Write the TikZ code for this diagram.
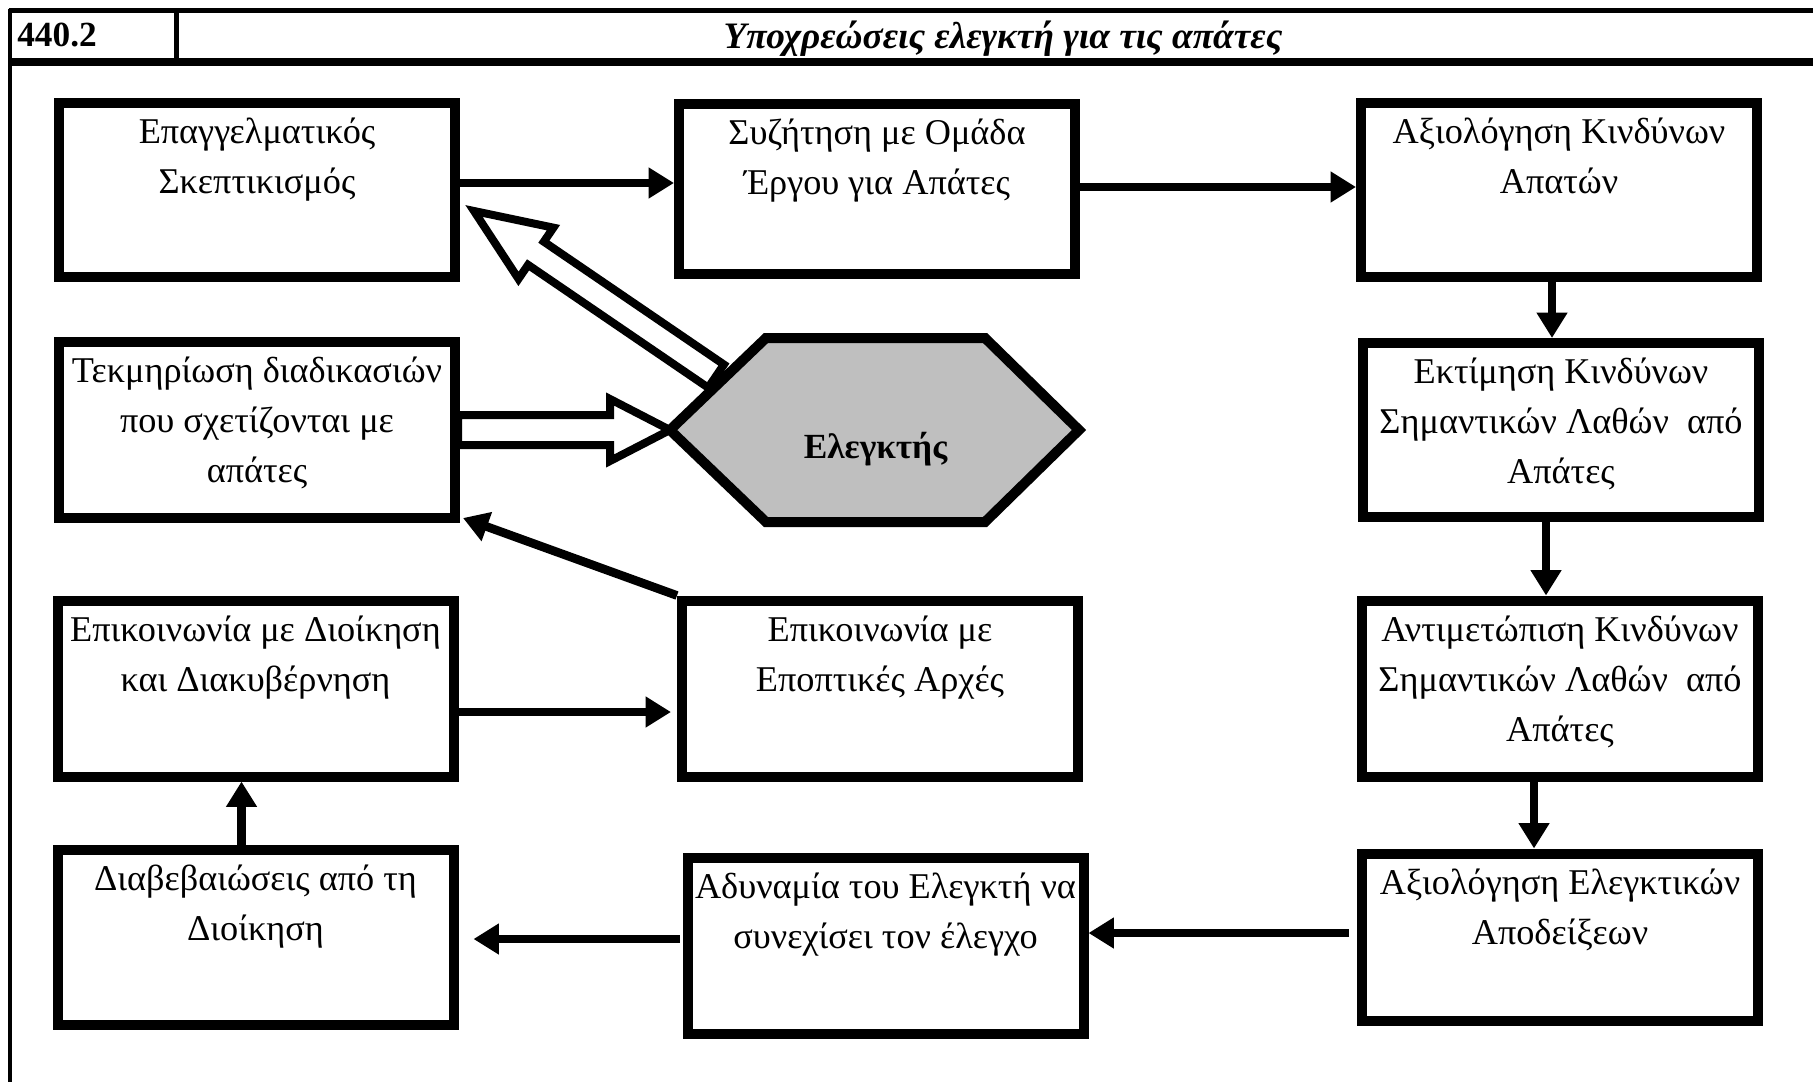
\documentclass[tikz,border=0pt]{standalone}
\usepackage{fontspec}
\setmainfont{Liberation Serif}
\usetikzlibrary{arrows.meta,calc}
\definecolor{elkgray}{RGB}{191,191,191}
\tikzset{
  box/.style={draw, line width=7.5pt, minimum width=297pt, inner sep=0pt},
  boxtext/.style={anchor=north, align=center, inner sep=0pt, font=\fontsize{27.2pt}{37.5pt}\selectfont, execute at begin node=\strut},
  hdr/.style={inner sep=0pt, font=\fontsize{26.5pt}{37.5pt}\selectfont},
  flow/.style={line width=6.5pt, -{Triangle[length=19pt,width=22pt]}},
  hollow/.style={line width=6pt},
  hexa/.style={line width=7.5pt, fill=elkgray}
}
\begin{document}
\begin{tikzpicture}[x=0.75pt,y=0.75pt,yscale=-1,xscale=1]
\useasboundingbox (0,0) rectangle (1813,1082);

%Frame and header
\draw[line width=3.75pt] (8.5,10.5) -- (1813,10.5);
\draw[line width=6pt] (8.5,62) -- (1813,62);
\draw[line width=3pt] (10,9) -- (10,1082);
\draw[line width=3.75pt] (176,10.5) -- (176,62);
\node[hdr, anchor=base west] (num) at (17,46.5) {\bfseries 440.2};
\node[hdr, anchor=base, font=\fontsize{28pt}{37.5pt}\selectfont] (title) at (1003,48.5) {\bfseries\itshape Υποχρεώσεις ελεγκτή για τις απάτες};

%Boxes, left column
\node[box, minimum height=130.5pt] (skep) at (257,190) {};
\node[box, minimum height=132pt] (tekm) at (257,430) {};
\node[box, minimum height=132pt] (dioik) at (255.5,688.5) {};
\node[box, minimum height=131.25pt] (diab) at (255.5,937.5) {};
%Boxes, middle column
\node[box, minimum height=127.5pt] (syz) at (877,189) {};
\node[box, minimum height=132pt] (epopt) at (880,688.5) {};
\node[box, minimum height=132pt] (adyn) at (885.5,946) {};
%Boxes, right column
\node[box, minimum height=130.5pt] (axio) at (1559,190) {};
\node[box, minimum height=130.5pt] (ekt) at (1561,430) {};
\node[box, minimum height=132pt] (antim) at (1560,688.5) {};
\node[box, minimum height=125.25pt] (evid) at (1560,937) {};

% Box texts
\node[boxtext] (skepT) at ($(skep.north)+(0,20)$) {Επαγγελματικός\\Σκεπτικισμός};
\node[boxtext] (tekmT) at ($(tekm.north)+(0,20)$) {Τεκμηρίωση διαδικασιών\\που σχετίζονται με\\απάτες};
\node[boxtext] (dioikT) at ($(dioik.north)+(0,20)$) {Επικοινωνία με Διοίκηση\\και Διακυβέρνηση};
\node[boxtext] (diabT) at ($(diab.north)+(0,20)$) {Διαβεβαιώσεις από τη\\Διοίκηση};
\node[boxtext] (syzT) at ($(syz.north)+(0,20)$) {Συζήτηση με Ομάδα\\Έργου για Απάτες};
\node[boxtext] (epoptT) at ($(epopt.north)+(0,20)$) {Επικοινωνία με\\Εποπτικές Αρχές};
\node[boxtext] (adynT) at ($(adyn.north)+(0,20)$) {Αδυναμία του Ελεγκτή να\\συνεχίσει τον έλεγχο};
\node[boxtext] (axioT) at ($(axio.north)+(0,20)$) {Αξιολόγηση Κινδύνων\\Απατών};
\node[boxtext] (ektT) at ($(ekt.north)+(0,20)$) {Εκτίμηση Κινδύνων\\Σημαντικών Λαθών~ από\\Απάτες};
\node[boxtext] (antimT) at ($(antim.north)+(0,20)$) {Αντιμετώπιση Κινδύνων\\Σημαντικών Λαθών~ από\\Απάτες};
\node[boxtext] (evidT) at ($(evid.north)+(0,20)$) {Αξιολόγηση Ελεγκτικών\\Αποδείξεων};

% Solid arrows
\draw[flow] ($(skep.east)+(0,-7)$) -- ($(syz.west)+(0,-6)$);
\draw[flow] ($(syz.east)+(0,-2)$) -- ($(axio.west)+(0,-3)$);
\draw[flow] ($(axio.south)+(-7,0)$) -- ($(ekt.north)+(-9,0)$);
\draw[flow] ($(ekt.south)+(-15,0)$) -- ($(antim.north)+(-14,0)$);
\draw[flow] ($(antim.south)+(-26,0)$) -- ($(evid.north)+(-26,0)$);
\draw[flow] ($(evid.west)+(-8,-4)$) -- ($(adyn.east)+(0,-13)$);
\draw[flow] ($(adyn.west)+(-3,-7)$) -- ($(diab.east)+(15,1.5)$);
\draw[flow] ($(diab.north)+(-14,0)$) -- ($(dioik.south)+(-14,0)$);
\draw[flow] ($(dioik.east)+(0,23.5)$) -- ($(epopt.west)+(-6,23.5)$);
\draw[flow] (epopt.north west) -- ($(tekm.south east)+(3,-5)$);

% Hollow arrows towards and from the auditor
\coordinate (elkW) at (670,430);
\coordinate (dtip) at ($(skep.east)+(14,21)$);
\begin{scope}[shift={(elkW)}, rotate=180]
\draw[hollow] (0,0) -- (60,-31) -- (60,-15) -- (212,-15) -- (212,15) -- (60,15) -- (60,31) -- cycle;
\end{scope}
\begin{scope}[shift={(dtip)}, rotate=34.3]
\draw[hollow] (0,0) -- (75,-31) -- (75,-14) -- (293,-14) -- (293,14) -- (75,14) -- (75,31) -- cycle;
\end{scope}

%Hexagon: auditor
\draw[hexa] (elkW) -- (766,338) -- (985,338) -- (1079,430) -- (985,522) -- (766,522) -- cycle;
\node[hdr, anchor=base] (elk) at (875.5,458) {\bfseries Ελεγκτής};

\end{tikzpicture}
\end{document}
